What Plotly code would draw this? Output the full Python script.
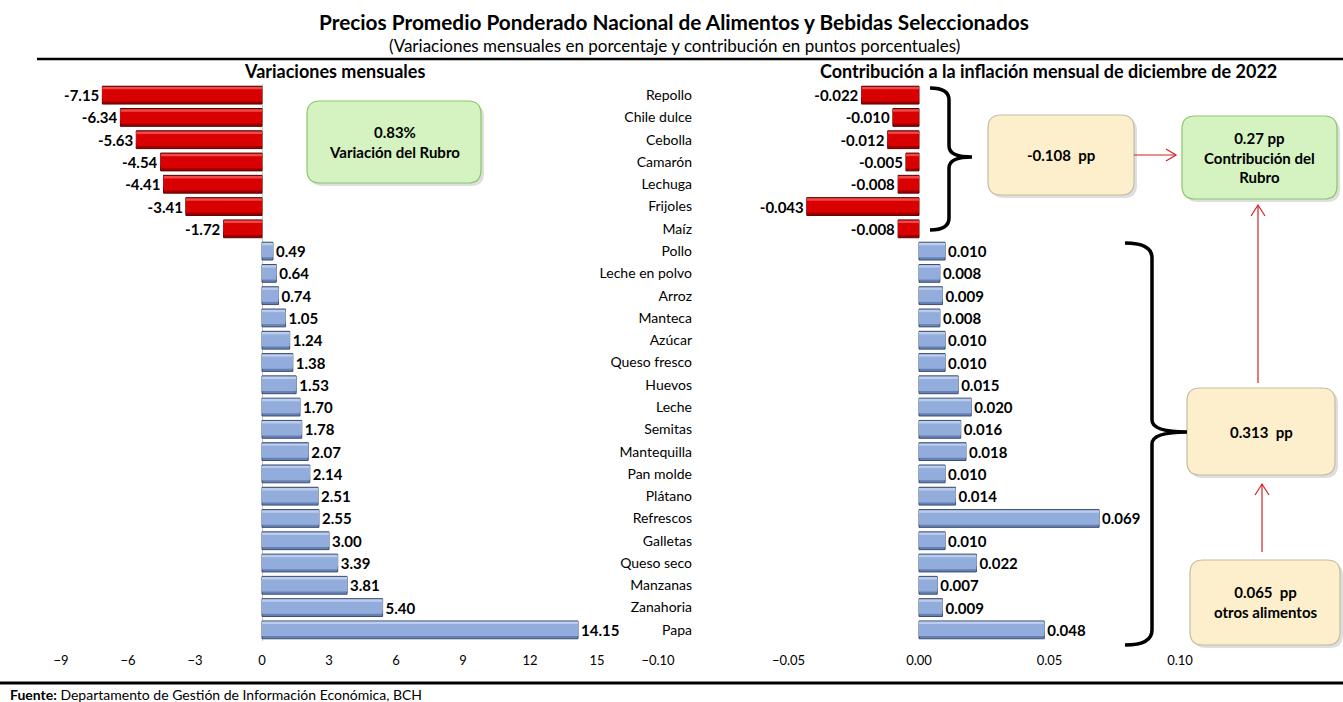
import plotly.graph_objects as go

# ---------------- data ----------------
categories = ["Repollo", "Chile dulce", "Cebolla", "Camarón", "Lechuga", "Frijoles", "Maíz",
              "Pollo", "Leche en polvo", "Arroz", "Manteca", "Azúcar", "Queso fresco", "Huevos",
              "Leche", "Semitas", "Mantequilla", "Pan molde", "Plátano", "Refrescos", "Galletas",
              "Queso seco", "Manzanas", "Zanahoria", "Papa"]
variacion = [-7.15, -6.34, -5.63, -4.54, -4.41, -3.41, -1.72, 0.49, 0.64, 0.74, 1.05, 1.24,
             1.38, 1.53, 1.70, 1.78, 2.07, 2.14, 2.51, 2.55, 3.00, 3.39, 3.81, 5.40, 14.15]
contribucion = [-0.022, -0.010, -0.012, -0.005, -0.008, -0.043, -0.008, 0.010, 0.008, 0.009,
                0.008, 0.010, 0.010, 0.015, 0.020, 0.016, 0.018, 0.010, 0.014, 0.069, 0.010,
                0.022, 0.007, 0.009, 0.048]
left_ticks = [-9, -6, -3, 0, 3, 6, 9, 12, 15]
right_ticks = [-0.10, -0.05, 0.00, 0.05, 0.10]

FONT = "Lato"
W, H = 1343, 702
T, B = 84, 641  # plot area top/bottom in px


def px(x):
    return x / W


def py(y):
    return (B - y) / (B - T)


def P(x, y):
    return f"{px(x):.5f},{py(y):.5f}"


def shade(vals, neg, pos):
    return [neg if v < 0 else pos for v in vals]


fig = go.Figure()

# bevel-like bars: dark base, light top strip, mid body
layers = [
    dict(w=0.80, off=-0.40, neg="#9C0000", pos="#6681B5", lneg="#5A0000", lpos="#3C4F70", lw=1),
    dict(w=0.50, off=-0.37, neg="#F24848", pos="#BCCDEB", lneg=None, lpos=None, lw=0),
    dict(w=0.54, off=-0.26, neg="#D80000", pos="#92ACDC", lneg=None, lpos=None, lw=0),
]
for xa, ya, vals, fmt in [("x", "y", variacion, "%{x:.2f}"), ("x2", "y2", contribucion, "%{x:.3f}")]:
    for i, L in enumerate(layers):
        line = dict(width=L["lw"])
        if L["lw"]:
            line["color"] = shade(vals, L["lneg"], L["lpos"])
        fig.add_trace(go.Bar(
            x=vals, y=categories, orientation="h", xaxis=xa, yaxis=ya,
            width=L["w"], offset=L["off"],
            marker=dict(color=shade(vals, L["neg"], L["pos"]), line=line),
            texttemplate=("<b>" + fmt + "</b>") if i == 0 else None,
            textposition="outside" if i == 0 else "none",
            textfont=dict(family=FONT, size=15, color="black"),
            constraintext="none", cliponaxis=False, showlegend=False, hoverinfo="skip",
        ))

shapes = []
annotations = []

# horizontal rules
shapes.append(dict(type="line", xref="paper", yref="paper", x0=px(37), x1=px(1343),
                   y0=py(59), y1=py(59), line=dict(color="black", width=2.5)))
shapes.append(dict(type="line", xref="paper", yref="paper", x0=px(0), x1=px(1343),
                   y0=py(683), y1=py(683), line=dict(color="black", width=3)))


def rpath(x0, y0, x1, y1, r):
    return (f"M {P(x0 + r, y0)} L {P(x1 - r, y0)} Q {P(x1, y0)} {P(x1, y0 + r)} "
            f"L {P(x1, y1 - r)} Q {P(x1, y1)} {P(x1 - r, y1)} L {P(x0 + r, y1)} "
            f"Q {P(x0, y1)} {P(x0, y1 - r)} L {P(x0, y0 + r)} Q {P(x0, y0)} {P(x0 + r, y0)} Z")


def rbox(x0, y0, x1, y1, fill, border, r=13):
    shapes.append(dict(type="path", xref="paper", yref="paper", path=rpath(x0 + 3, y0 + 3, x1 + 3, y1 + 3, r),
                       fillcolor="rgba(0,0,0,0.13)", line=dict(width=0), layer="above"))
    shapes.append(dict(type="path", xref="paper", yref="paper", path=rpath(x0, y0, x1, y1, r),
                       fillcolor=fill, line=dict(color=border, width=1.2), layer="above"))


GREEN, GREEN_B = "#D4F3C0", "#8CC66A"
CREAM, CREAM_B = "#FDEFCB", "#C4BCA4"

rbox(307, 101, 481, 183, GREEN, GREEN_B)
rbox(988, 115, 1134, 195, CREAM, CREAM_B)
rbox(1182, 116, 1337, 199, GREEN, GREEN_B)
rbox(1187, 388, 1335, 475, CREAM, CREAM_B)
rbox(1190, 560, 1340, 645, CREAM, CREAM_B)


def text(x, y, s, size=13, xanchor="center", bold=True):
    annotations.append(dict(xref="paper", yref="paper", x=px(x), y=py(y), text=(f"<b>{s}</b>" if bold else s),
                            showarrow=False, xanchor=xanchor, yanchor="middle",
                            font=dict(family=FONT, size=size, color="black")))


text(394, 142, "0.83%<br>Variación del Rubro", 15)
text(1061, 155, "-0.108  pp", 15)
text(1259, 157, "0.27 pp<br>Contribución del<br>Rubro", 15)
text(1261, 432, "0.313  pp", 15)
text(1265, 602, "0.065  pp<br>otros alimentos", 15)

# titles
text(674, 21, "Precios Promedio Ponderado Nacional de Alimentos y Bebidas Seleccionados", 20.8)
text(674, 46, "(Variaciones mensuales en porcentaje y contribución en puntos porcentuales)", 17, bold=False)
text(334, 71, "Variaciones mensuales", 18)
text(1048, 71, "Contribución a la inflación mensual de diciembre de 2022", 18)
annotations.append(dict(xref="paper", yref="paper", x=px(8), y=py(694), xanchor="left", yanchor="middle",
                        showarrow=False, text="<b>Fuente:</b> Departamento de Gestión de Información Económica, BCH",
                        font=dict(family=FONT, size=14, color="black")))

# braces
brace1 = (f"M {P(930, 88)} Q {P(949, 88)} {P(949, 100)} L {P(949, 146)} Q {P(949, 157)} {P(972, 157)} "
          f"Q {P(949, 157)} {P(949, 168)} L {P(949, 218)} Q {P(949, 230)} {P(930, 230)}")
brace2 = (f"M {P(1125, 243)} Q {P(1152, 243)} {P(1152, 258)} L {P(1152, 420)} Q {P(1152, 432)} {P(1187, 432)} "
          f"Q {P(1152, 432)} {P(1152, 444)} L {P(1152, 630)} Q {P(1152, 645)} {P(1125, 645)}")
for b in (brace1, brace2):
    shapes.append(dict(type="path", xref="paper", yref="paper", path=b, line=dict(color="black", width=3.5),
                       layer="above"))

# red arrows with open heads
RED = "#D42020"


def arrow(x0, y0, x1, y1):
    shapes.append(dict(type="line", xref="paper", yref="paper", x0=px(x0), y0=py(y0), x1=px(x1), y1=py(y1),
                       line=dict(color=RED, width=1.2), layer="above"))
    if y0 == y1:
        head = f"M {P(x1 - 10, y1 - 6)} L {P(x1, y1)} L {P(x1 - 10, y1 + 6)}"
    else:
        head = f"M {P(x1 - 7, y1 + 11)} L {P(x1, y1)} L {P(x1 + 7, y1 + 11)}"
    shapes.append(dict(type="path", xref="paper", yref="paper", path=head, line=dict(color=RED, width=1.2),
                       layer="above"))


arrow(1134, 155, 1176, 155)
arrow(1258, 383, 1258, 205)
arrow(1262, 552, 1262, 484)

axis_font = dict(family=FONT, size=13, color="black")
fig.update_layout(
    width=W, height=H, paper_bgcolor="white", plot_bgcolor="white",
    margin=dict(l=0, r=0, t=T, b=H - B, pad=0, autoexpand=False),
    barmode="overlay",
    font=dict(family=FONT, color="black"),
    xaxis=dict(domain=[px(61), px(597)], range=[-9, 15], tickvals=left_ticks, ticks="",
               showgrid=False, zeroline=True, zerolinecolor="#C8C8C8", zerolinewidth=1,
               showline=False, tickfont=axis_font, anchor="y", ticklabelstandoff=10, automargin=False),
    xaxis2=dict(domain=[px(658), px(1180)], range=[-0.10, 0.10], tickvals=right_ticks, tickformat=".2f",
                ticks="", showgrid=False, zeroline=False, showline=False, tickfont=axis_font, anchor="y2",
                ticklabelstandoff=10, automargin=False),
    yaxis=dict(autorange="reversed", anchor="free", position=px(692), side="left", showgrid=False,
               zeroline=False, showline=False, ticks="", tickfont=dict(family=FONT, size=14, color="black"),
               categoryorder="array", categoryarray=categories, automargin=False),
    yaxis2=dict(matches="y", anchor="x2", showticklabels=False, showgrid=False, zeroline=False, showline=False,
                ticks="", automargin=False),
    shapes=shapes, annotations=annotations,
)

fig.write_html("out.html", config={"displayModeBar": False},
               post_script="document.documentElement.style.margin='0';document.body.style.margin='0';"
                           "document.documentElement.style.overflow='hidden';document.body.style.overflow='hidden';")
